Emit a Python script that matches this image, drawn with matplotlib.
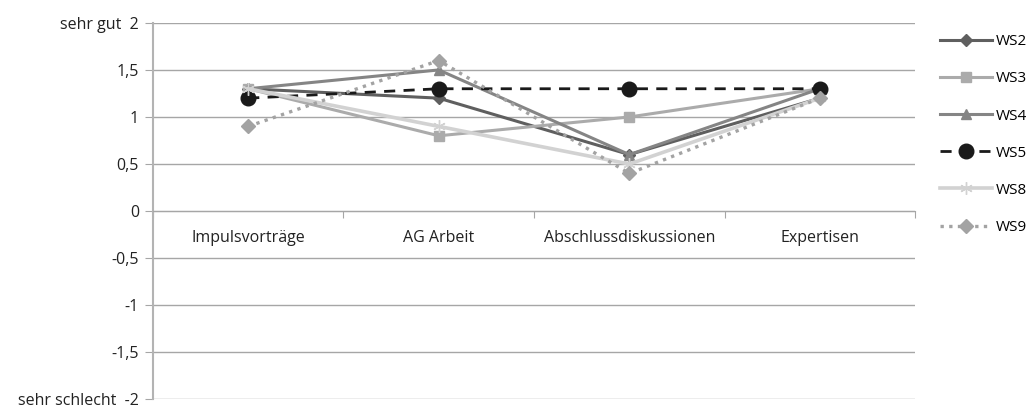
import matplotlib
matplotlib.use('Agg')

import matplotlib.pyplot as plt
import numpy as np

plt.rcParams['font.family'] = ['Open Sans', 'DejaVu Sans']

categories = ['Impulsvorträge', 'AG Arbeit', 'Abschlussdiskussionen', 'Expertisen']
series_names = ['WS2', 'WS3', 'WS4', 'WS5', 'WS8', 'WS9']
ws2 = [1.3, 1.2, 0.6, 1.2]
ws3 = [1.3, 0.8, 1.0, 1.3]
ws4 = [1.3, 1.5, 0.6, 1.3]
ws5 = [1.2, 1.3, 1.3, 1.3]
ws8 = [1.3, 0.9, 0.5, 1.2]
ws9 = [0.9, 1.6, 0.4, 1.2]
y_ticks = [-2, -1.5, -1, -0.5, 0, 0.5, 1, 1.5, 2]
y_labels = ['sehr schlecht  -2', '-1,5', '-1', '-0,5', '0', '0,5', '1', '1,5', 'sehr gut  2']

styles = [
    dict(color='#5f5f5f', ls='-', marker='D', ms=6, lw=2.2),
    dict(color='#ababab', ls='-', marker='s', ms=7, lw=2.2),
    dict(color='#858585', ls='-', marker='^', ms=7, lw=2.2),
    dict(color='#1a1a1a', ls=(0, (4, 3)), marker='o', ms=10.5, lw=2.0),
    dict(color='#d2d2d2', ls='-', marker=(6, 2, 0), ms=9, lw=2.6),
    dict(color='#a3a3a3', ls=(0, (1, 1.6)), marker='D', ms=7, lw=2.4),
]

fig = plt.figure(figsize=(10.33, 4.09), dpi=100)
ax = fig.add_axes([0.148, 0.024, 0.738, 0.92])

x = np.arange(len(categories))
for name, vals, st in zip(series_names, [ws2, ws3, ws4, ws5, ws8, ws9], styles):
    ax.plot(x, vals, label=name, color=st['color'], ls=st['ls'], lw=st['lw'],
            marker=st['marker'], ms=st['ms'], mec=st['color'], mfc=st['color'])

ax.set_xlim(-0.5, len(categories) - 0.5)
ax.set_ylim(-2, 2)
ax.set_yticks(y_ticks)
ax.set_yticklabels(y_labels, fontsize=11.5, color='#222222')
ax.tick_params(axis='y', length=6, color='#a6a6a6', pad=4)
ax.yaxis.grid(True, color='#a6a6a6', lw=1)
ax.set_axisbelow(True)

ax.spines['bottom'].set_position(('data', 0))
ax.spines['bottom'].set_color('#a6a6a6')
ax.spines['left'].set_color('#b3b3b3')
ax.spines['left'].set_linewidth(1.5)
ax.spines['top'].set_visible(False)
ax.spines['right'].set_visible(False)

ax.set_xticks(np.arange(-0.5, len(categories), 1.0))
ax.set_xticklabels([])
ax.tick_params(axis='x', which='major', length=5, color='#a6a6a6')
ax.set_xticks(x, minor=True)
ax.set_xticklabels(categories, minor=True, fontsize=11.5, color='#222222')
ax.tick_params(axis='x', which='minor', length=0, pad=14)

fig.legend(loc='upper left', bbox_to_anchor=(0.897, 0.95), frameon=False,
           fontsize=11, handlelength=3.4, labelspacing=1.45, handletextpad=0.25)

fig.savefig('out.png', dpi=100)
